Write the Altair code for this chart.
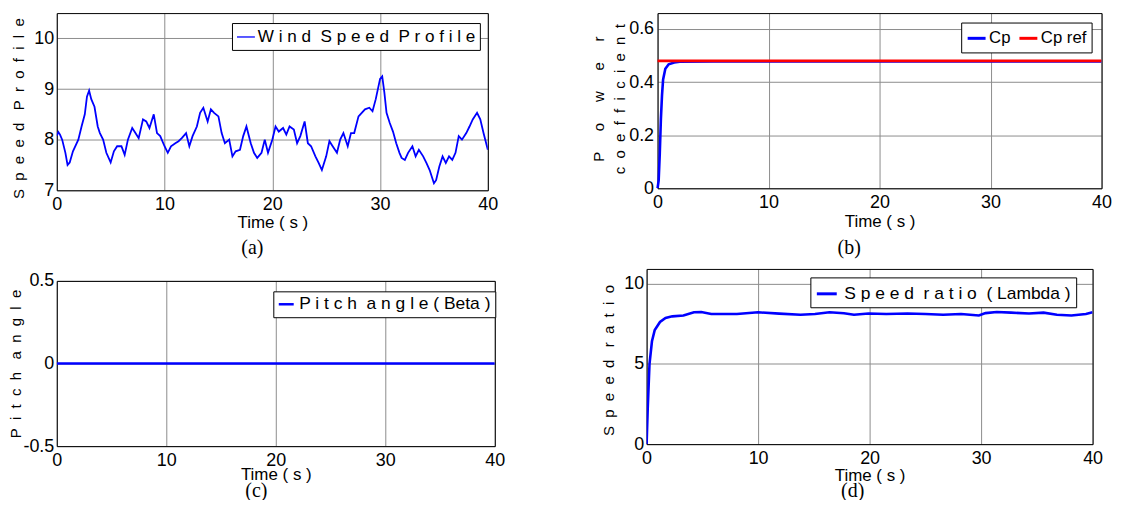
import altair as alt
import pandas as pd

SANS = "Liberation Sans, Arial, Helvetica, sans-serif"
SERIF = "Liberation Serif, Times New Roman, Times, serif"
BLUE = "#0000ff"
RED = "#ff0000"
GRID = "#8c8c8c"

# ---------------- data ----------------
X_TICKS = [0, 10, 20, 30, 40]

WIND_T = [0, 0.15, 0.3, 0.5, 0.8, 1.0, 1.2, 1.5, 2.0, 2.3,
          2.6, 2.8, 3.0, 3.2, 3.5, 3.8, 4.0, 4.3, 4.6, 5.0,
          5.3, 5.6, 6.0, 6.3, 6.6, 7.0, 7.3, 7.6, 8.0, 8.3,
          8.6, 9.0, 9.3, 9.6, 10.0, 10.3, 10.6, 11.0, 11.3, 11.6,
          12.0, 12.3, 12.6, 13.0, 13.3, 13.6, 14.0, 14.3, 14.6, 15.0,
          15.3, 15.6, 16.0, 16.3, 16.6, 17.0, 17.3, 17.6, 18.0, 18.3,
          18.6, 19.0, 19.3, 19.6, 20.0, 20.3, 20.6, 21.0, 21.3, 21.6,
          22.0, 22.3, 22.6, 23.0, 23.3, 23.6, 24.0, 24.3, 24.6, 25.0,
          25.3, 25.6, 26.0, 26.3, 26.6, 27.0, 27.3, 27.6, 28.0, 28.3,
          28.6, 29.0, 29.3, 29.6, 30.0, 30.2, 30.4, 30.6, 30.9, 31.2,
          31.5, 31.8, 32.0, 32.3, 32.6, 33.0, 33.3, 33.6, 34.0, 34.3,
          34.6, 35.0, 35.2, 35.5, 35.8, 36.1, 36.4, 36.7, 37.0, 37.3,
          37.6, 38.0, 38.3, 38.6, 39.0, 39.3, 39.6, 40.0]
WIND_V = [8.08, 8.15, 8.10, 8.00, 7.74, 7.50, 7.55, 7.77, 8.00, 8.26,
          8.50, 8.85, 8.97, 8.80, 8.65, 8.26, 8.13, 8.00, 7.74, 7.55,
          7.77, 7.87, 7.87, 7.70, 8.00, 8.23, 8.13, 8.03, 8.40, 8.36,
          8.23, 8.50, 8.13, 8.07, 7.87, 7.74, 7.87, 7.93, 7.97, 8.03,
          8.13, 7.87, 8.07, 8.26, 8.53, 8.63, 8.36, 8.60, 8.53, 8.46,
          8.13, 7.93, 8.00, 7.67, 7.77, 7.80, 8.07, 8.26, 7.93, 7.74,
          7.64, 7.74, 8.00, 7.74, 8.00, 8.26, 8.16, 8.23, 8.10, 8.26,
          8.20, 7.93, 8.07, 8.36, 7.93, 7.87, 7.67, 7.54, 7.40, 7.67,
          7.97, 7.87, 7.74, 8.00, 8.13, 7.87, 8.13, 8.13, 8.46, 8.53,
          8.60, 8.63, 8.56, 8.80, 9.20, 9.25, 8.93, 8.53, 8.33, 8.16,
          7.93, 7.74, 7.64, 7.60, 7.74, 7.87, 7.67, 7.80, 7.67, 7.54,
          7.40, 7.14, 7.20, 7.47, 7.67, 7.54, 7.67, 7.60, 7.74, 8.07,
          8.00, 8.13, 8.26, 8.40, 8.53, 8.40, 8.13, 7.80]

CP_T = [0, 0.1, 0.2, 0.3, 0.4, 0.5, 0.7, 1.0, 1.5, 2.0, 5, 10, 15, 20, 25, 30, 35, 40]
CP_V = [0, 0.03, 0.13, 0.26, 0.35, 0.41, 0.45, 0.467, 0.474, 0.477,
        0.478, 0.478, 0.478, 0.478, 0.478, 0.478, 0.478, 0.478]
CPREF_T = [0, 40]
CPREF_V = [0.48, 0.48]

PITCH_T = [0, 40]
PITCH_V = [0, 0]

LAMBDA_T = [0, 0.1, 0.26, 0.48, 0.73, 1.2, 1.7, 2.3, 3.3, 4.25,
            4.9, 5.8, 8.1, 10, 11.9, 13.8, 15.1, 16.4, 17.7, 18.6,
            19.9, 21.5, 23.4, 25, 26.6, 28.2, 29.8, 30.4, 31.4, 32.7,
            34.3, 35.6, 36.8, 38.1, 39.4, 40]
LAMBDA_V = [0, 2.2, 5.0, 6.4, 7.1, 7.6, 7.85, 7.95, 8.0, 8.2,
            8.22, 8.1, 8.1, 8.2, 8.12, 8.05, 8.1, 8.2, 8.14, 8.05,
            8.13, 8.1, 8.13, 8.1, 8.05, 8.1, 8.0, 8.15, 8.22, 8.18,
            8.13, 8.18, 8.05, 8.0, 8.1, 8.2]


# ---------------- text (letter-spaced as in the figure) ----------------
def tracked(text, gap, word_gap):
    return word_gap.join(gap.join(list(w)) for w in text.split(" "))


TG = "\u00a0 "          # gap between letters of axis titles
TW = "\u00a0\u00a0 "    # gap between words of axis titles
LG = " "                # gap between letters of legend labels
LW = "\u00a0 "          # gap between words of legend labels

TIME_TITLE = "Time ( s )"
YT_A = tracked("Speed Profile", TG, TW)
YT_B = [tracked("Power", "\u00a0\u00a0\u00a0\u00a0 ", TW), tracked("coefficient", TG, TW)]
YT_C = tracked("Pitch angle", TG, TW)
YT_D = tracked("Speed ratio", TG, TW)

LEG_A = tracked("Wind Speed Profile", LG, LW)
LEG_B = ["Cp", "Cp ref"]
LEG_C = tracked("Pitch angle", LG, LW) + " ( Beta )"
LEG_D = tracked("Speed ratio", LG, LW) + LW + "( Lambda )"

CAPTIONS = ["(a)", "(b)", "(c)", "(d)"]


# ---------------- helpers ----------------
def x_main(title_pad, grid=True):
    return alt.Axis(values=X_TICKS, format="d", title=TIME_TITLE, grid=grid,
                    gridColor=GRID, gridWidth=1, domainColor="black", domainWidth=1,
                    ticks=False, labelFont=SANS, labelFontSize=18, labelColor="black",
                    labelPadding=5, labelFlush=False, labelOverlap=False,
                    titleFont=SANS, titleFontSize=17, titleFontWeight="normal",
                    titleColor="black", titlePadding=title_pad)


def y_main(values, title, title_x, title_y=None, label_pad=3, offset=0, fmt="d"):
    kw = dict(values=values, title=title, grid=True, gridColor=GRID, gridWidth=1,
              domainColor="black", domainWidth=1, ticks=False, labelFont=SANS,
              labelFontSize=18, labelColor="black", labelPadding=label_pad,
              labelFlush=False, labelOverlap=False, titleFont=SANS, titleFontSize=15,
              titleFontWeight="normal", titleColor="black", titleX=title_x,
              titleLineHeight=21, format=fmt)
    if title_y is not None:
        kw["titleY"] = title_y
    if offset:
        kw["offset"] = offset
    return alt.Axis(**kw)


def frame_axis(orient, offset=0, grid_values=None):
    kw = dict(orient=orient, title=None, labels=False, ticks=False,
              domainColor="black", domainWidth=1)
    if grid_values:
        kw.update(grid=True, values=grid_values, gridColor=GRID, gridWidth=1)
    else:
        kw["grid"] = False
    if offset:
        kw["offset"] = offset
    return alt.Axis(**kw)


def legend(lx, ly, pad, sym_len, sym_w, label_off, direction="vertical",
           col_pad=8, font_size=17.5):
    return alt.Legend(orient="none", legendX=lx, legendY=ly, direction=direction,
                      title=None, strokeColor="black", fillColor="white", padding=pad,
                      cornerRadius=0, symbolType="stroke", symbolSize=sym_len * sym_len,
                      symbolStrokeWidth=sym_w, labelFont=SANS, labelFontSize=font_size,
                      labelColor="black", labelLimit=600, labelOffset=label_off,
                      columnPadding=col_pad, rowPadding=0)


def caption(text, offset, dx):
    return alt.TitleParams(text, orient="bottom", anchor="middle", frame="group",
                           font=SERIF, fontSize=20, fontWeight="normal", color="black",
                           offset=offset, dx=dx)


def panel(df, xscale, yscale, xaxis, yaxis, color, stroke_w, width, height, title,
          top_axis):
    line = alt.Chart(df).mark_line(strokeWidth=stroke_w, clip=True).encode(
        x=alt.X("t:Q", scale=xscale, axis=xaxis),
        y=alt.Y("v:Q", scale=yscale, axis=yaxis),
        color=color,
    )
    frame = alt.Chart(df).mark_point(opacity=0, size=1).encode(
        x=alt.X("t:Q", scale=xscale, axis=top_axis),
        y=alt.Y("v:Q", scale=yscale, axis=frame_axis("right")),
    )
    return (alt.layer(line, frame)
            .resolve_axis(x="independent", y="independent")
            .properties(width=width, height=height, title=title))


# ---------------- panel (a) ----------------
df_a = pd.DataFrame({"t": WIND_T, "v": WIND_V, "s": LEG_A})
pa = panel(
    df_a,
    alt.Scale(domain=[0, 40], nice=False, zero=False),
    alt.Scale(domain=[7, 10.5], nice=False, zero=False),
    x_main(1),
    y_main([7, 8, 9, 10], YT_A, -30, title_y=95.5),
    alt.Color("s:N", scale=alt.Scale(domain=[LEG_A], range=[BLUE]),
              legend=legend(176, 10, 4, 18, 1.3, 2, font_size=17.2)),
    1.8, 433, 178, caption(CAPTIONS[0], 7.5, -20), frame_axis("top"),
)

# ---------------- panel (b) ----------------
df_b = pd.DataFrame({
    "t": CP_T + CPREF_T,
    "v": CP_V + CPREF_V,
    "s": [LEG_B[0]] * len(CP_T) + [LEG_B[1]] * len(CPREF_T),
})
pb = panel(
    df_b,
    alt.Scale(domain=[0, 40], nice=False, zero=False, range=[11, 457]),
    alt.Scale(domain=[0, 0.66], nice=False, zero=False),
    x_main(2),
    y_main([0, 0.2, 0.4, 0.6], YT_B, -51, title_y=86, label_pad=4, offset=-11,
           fmt=".1~f"),
    alt.Color("s:N", scale=alt.Scale(domain=LEG_B, range=[BLUE, RED]),
              legend=legend(316, 9.5, 5, 18, 3, 2, direction="horizontal",
                            col_pad=2, font_size=16.8)),
    2.6, 457, 176, caption(CAPTIONS[1], 9, -25), frame_axis("top"),
)

# ---------------- panel (c) ----------------
df_c = pd.DataFrame({"t": PITCH_T, "v": PITCH_V, "s": LEG_C})
pc = panel(
    df_c,
    alt.Scale(domain=[0, 40], nice=False, zero=False),
    alt.Scale(domain=[-0.5, 0.5], nice=False, zero=False, range=[178, 12]),
    x_main(-2, grid=False),
    y_main([-0.5, 0, 0.5], YT_C, -33.5, fmt=".1~f"),
    alt.Color("s:N", scale=alt.Scale(domain=[LEG_C], range=[BLUE]),
              legend=legend(217.5, 22.5, 4, 15, 2.5, 4)),
    2.4, 440, 178, caption(CAPTIONS[2], -2, -19.5),
    frame_axis("top", offset=-12, grid_values=X_TICKS),
)

# ---------------- panel (d) ----------------
df_d = pd.DataFrame({"t": LAMBDA_T, "v": LAMBDA_V, "s": LEG_D})
pd_ = panel(
    df_d,
    alt.Scale(domain=[0, 40], nice=False, zero=False),
    alt.Scale(domain=[0, 10.9], nice=False, zero=False),
    x_main(1),
    y_main([0, 5, 10], YT_D, -30, title_y=91.5),
    alt.Color("s:N", scale=alt.Scale(domain=[LEG_D], range=[BLUE]),
              legend=legend(164.5, 8.5, 5, 20, 3, 6)),
    2.6, 448, 176, caption(CAPTIONS[3], -2.5, -17), frame_axis("top"),
)

chart = (
    alt.concat(pa, pb, pc, pd_, columns=2, bounds="flush", align="all",
               spacing=alt.RowColnumber(row=79, column=135.5))
    .resolve_scale(color="independent")
    .resolve_legend(color="independent")
    .properties(padding={"left": 0, "top": 3, "right": 0, "bottom": -3},
                background="white")
    .configure(font=SANS,
               locale=alt.Locale(number=alt.NumberLocale(
                   decimal=".", thousands=",", grouping=[3], currency=["", ""],
                   minus="-")))
    .configure_view(stroke="transparent")
)

chart.save("out.html", embed_options={"renderer": "svg", "actions": False})
